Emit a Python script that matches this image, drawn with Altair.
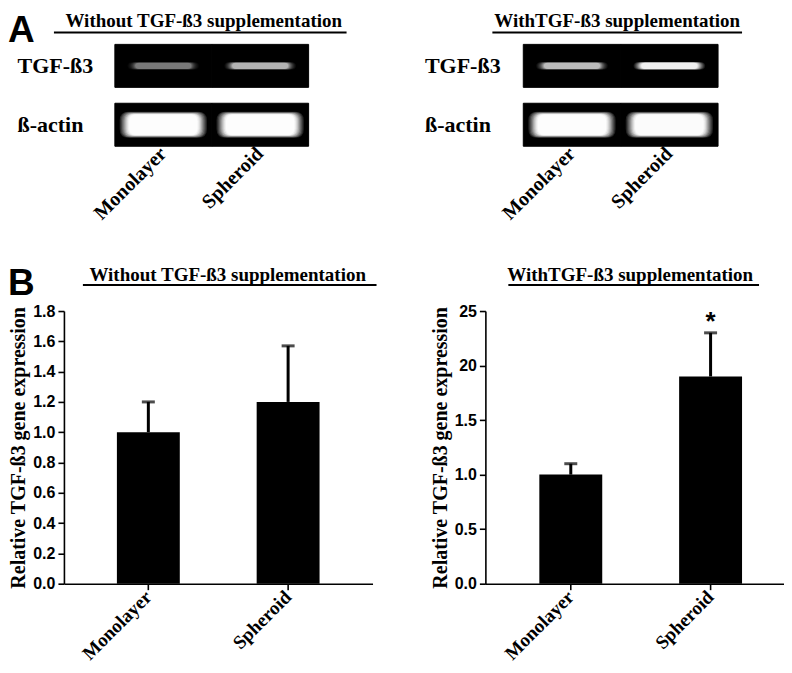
import altair as alt
import pandas as pd

# ---------------- data ----------------
categories = ["Monolayer", "Spheroid"]

without_mean = [1.0, 1.2]
without_err = [0.2, 0.37]
with_mean = [1.0, 1.9]
with_err = [0.1, 0.4]
with_sig = ["", "*"]

left_ticks = [0.0, 0.2, 0.4, 0.6, 0.8, 1.0, 1.2, 1.4, 1.6, 1.8]
right_ticks = [0.0, 0.5, 1.0, 1.5, 2.0, 2.5]
right_tick_labels = ["0.0", "0.5", "1.0", "1.5", "20", "25"]

gel_rows = ["TGF-ß3", "ß-actin"]
gel_without_tgf = [0.2, 0.35]
gel_without_actin = [1.0, 1.0]
gel_with_tgf = [0.38, 0.72]
gel_with_actin = [1.0, 0.95]

title_without = "Without  TGF-ß3  supplementation"
title_with = "WithTGF-ß3  supplementation"
y_title = "Relative TGF-ß3 gene expression"

# ---------------- style ----------------
SERIF = "Liberation Serif"
SANS = "Liberation Sans"

TGF_SHAPE = ("M -0.85 -0.11 L 0.85 -0.11 Q 1 -0.11 1 0 Q 1 0.11 0.85 0.11 "
             "L -0.85 0.11 Q -1 0.11 -1 0 Q -1 -0.11 -0.85 -0.11 Z")
ACTIN_SHAPE = ("M -0.8 -0.3 L 0.8 -0.3 Q 1 -0.3 1 -0.1 L 1 0.1 Q 1 0.3 0.8 0.3 "
               "L -0.8 0.3 Q -1 0.3 -1 0.1 L -1 -0.1 Q -1 -0.3 -0.8 -0.3 Z")
# (scale factor, opacity share) of the soft glow layers
GLOW = [(1.12, 0.14), (1.09, 0.15), (1.06, 0.18), (1.03, 0.22), (1.0, 0.28),
        (0.97, 0.35), (0.94, 0.45), (0.91, 0.6), (0.88, 0.8)]


def deco_layers(title, title_x, ul, letter=None, letter_y=-6, title_y=-26, ul_y=-15):
    d = alt.Chart(pd.DataFrame({"t": [title]}))
    out = [
        d.mark_text(font=SERIF, fontWeight="bold", fontSize=19, align="center",
                    baseline="middle", color="black").encode(
            text="t:N", x=alt.value(title_x), y=alt.value(title_y)),
        d.mark_rule(color="black", strokeWidth=2).encode(
            x=alt.value(ul[0]), x2=alt.value(ul[1]), y=alt.value(ul_y)),
    ]
    if letter:
        out.append(
            alt.Chart(pd.DataFrame({"t": [letter]})).mark_text(
                font=SANS, fontWeight="bold", fontSize=37, align="left",
                baseline="alphabetic", color="black").encode(
                text="t:N", x=alt.value(-56), y=alt.value(letter_y)))
    return out


def gel_panel(tgf, actin, width, po, align, label_pad, title, title_x, ul, letter=None):
    df = pd.DataFrame({
        "lane": categories + categories,
        "row": [gel_rows[0]] * 2 + [gel_rows[1]] * 2,
        "intensity": tgf + actin,
    })
    x = alt.X("lane:N", scale=alt.Scale(domain=categories, paddingInner=0,
                                        paddingOuter=po, align=align),
              axis=alt.Axis(title=None, orient="bottom", domain=False, ticks=False,
                            tickSize=0, labelAngle=-45, labelAlign="right",
                            labelBaseline="middle", labelFont=SERIF,
                            labelFontWeight="bold", labelFontSize=20,
                            labelColor="black", labelPadding=4))
    y = alt.Y("row:N", scale=alt.Scale(domain=gel_rows, paddingInner=0.27, paddingOuter=0),
              axis=alt.Axis(title=None, domain=False, ticks=False, tickSize=0,
                            labelAlign="left", labelBaseline="middle",
                            labelPadding=label_pad, labelFont=SERIF,
                            labelFontWeight="bold", labelFontSize=22,
                            labelColor="black"))
    base = alt.Chart(df)
    layers = [base.mark_rect(color="black", stroke="black", strokeWidth=1).encode(x=x, y=y)]
    for row, shape, w in [(gel_rows[0], TGF_SHAPE, 64), (gel_rows[1], ACTIN_SHAPE, 78)]:
        for f, k in GLOW:
            layers.append(
                base.transform_filter(alt.datum.row == row)
                .transform_calculate(op=f"datum.intensity * {k}")
                .mark_point(shape=shape, filled=True, color="white", strokeWidth=0)
                .encode(x=x, y=y,
                        size=alt.value((w * f) ** 2),
                        opacity=alt.Opacity("op:Q", scale=None)))
    layers += deco_layers(title, title_x, ul, letter, letter_y=-2, title_y=-23, ul_y=-12)
    return alt.layer(*layers).properties(width=width, height=102)


def bar_panel(mean, err, sig, ticks, label_expr, ymax, width, height, po, align,
              title, title_x, ul, letter=None):
    df = pd.DataFrame({"cat": categories, "mean": mean, "err": err, "sig": sig})
    base = alt.Chart(df).transform_calculate(top="datum.mean + datum.err")
    x = alt.X("cat:N", scale=alt.Scale(domain=categories, paddingInner=0.55,
                                       paddingOuter=po, align=align),
              axis=alt.Axis(title=None, domainColor="black", domainWidth=1.6,
                            tickColor="black", tickWidth=1.6, tickSize=6,
                            labelAngle=-45, labelAlign="right", labelBaseline="middle",
                            labelFont=SERIF, labelFontWeight="bold", labelFontSize=19,
                            labelColor="black", labelPadding=4))
    yax = alt.Axis(title=y_title, values=ticks, labelExpr=label_expr, grid=False,
                   labelOverlap=False, domainColor="black", domainWidth=1.6,
                   tickColor="black", tickWidth=1.6, tickSize=6, labelFont=SANS,
                   labelFontWeight="bold", labelFontSize=16, labelColor="black",
                   labelPadding=3, titleFont=SERIF, titleFontWeight="bold",
                   titleFontSize=20, titleColor="black", titlePadding=4)
    yscale = alt.Scale(domain=[0, ymax], nice=False, zero=True)
    bars = base.mark_bar(color="black").encode(
        x=x, y=alt.Y("mean:Q", scale=yscale, axis=yax))
    rule = base.mark_rule(color="black", strokeWidth=3).encode(
        x=x, y=alt.Y("mean:Q", scale=yscale, axis=yax), y2="top:Q")
    cap = base.mark_tick(color="black", thickness=3, size=13).encode(
        x=x, y=alt.Y("top:Q", scale=yscale, axis=yax))
    star = base.mark_text(font=SANS, fontWeight="bold", fontSize=26,
                          baseline="alphabetic", dy=-3, color="black").encode(
        x=x, y=alt.Y("top:Q", scale=yscale, axis=yax), text="sig:N")
    layers = [bars, rule, cap, star] + deco_layers(title, title_x, ul, letter,
                                                   letter_y=-16, title_y=-36, ul_y=-26)
    return alt.layer(*layers).properties(width=width, height=height)


left_expr = "format(datum.value, '.1f')"
right_expr = "[" + ",".join(f"'{s}'" for s in right_tick_labels) + "][round(datum.value * 2)]"

gel_left = gel_panel(gel_without_tgf, gel_without_actin, 309, 0.5928, 0.4435, 47,
                     title_without, 140, (-10, 283), "A")
gel_right = gel_panel(gel_with_tgf, gel_with_actin, 299, 0.5333, 0.365, 61,
                      title_with, 132, (7, 257))
bar_left = bar_panel(without_mean, without_err, ["", ""], left_ticks, left_expr, 1.8,
                     309, 273, 0.379, 0.5, title_without, 164, (19, 313), "B")
bar_right = bar_panel(with_mean, with_err, with_sig, right_ticks, right_expr, 2.5,
                      299, 273, 0.343, 0.5625, title_with, 145, (23, 274))

chart = alt.concat(gel_left, gel_right, bar_left, bar_right, columns=2,
                   spacing={"row": 41, "column": 47}).properties(
    padding={"top": 4, "left": 0, "right": 0, "bottom": 0},
    background="white").configure_view(stroke=None).configure_axis(labelOverlap=False)

chart.save("out.html", embed_options={"renderer": "svg", "actions": False})
